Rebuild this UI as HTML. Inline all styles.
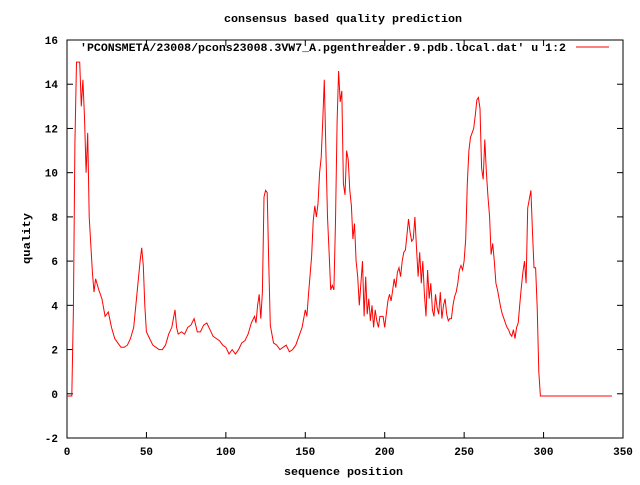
<!DOCTYPE html>
<html><head><meta charset="utf-8"><style>
html,body{margin:0;padding:0;background:#fff}
text{font-family:"Liberation Mono","DejaVu Sans Mono",monospace;font-size:11px;font-weight:bold;fill:#000}
</style></head><body>
<svg id="chart" width="640" height="480" xmlns="http://www.w3.org/2000/svg">
<rect width="640" height="480" fill="#fff"/>
<text x="224" y="22" textLength="238" lengthAdjust="spacingAndGlyphs">consensus based quality prediction</text>
<text x="284" y="475" textLength="119" lengthAdjust="spacingAndGlyphs">sequence position</text>
<text transform="translate(30,264) rotate(-90)" textLength="51" lengthAdjust="spacingAndGlyphs">quality</text>
<rect x="67" y="40" width="556" height="398" fill="none" stroke="#000" stroke-width="1"/>
<g id="ticks"></g>
<path id="series" fill="none" stroke="#f00" stroke-width="1"/>
<text x="80" y="51" textLength="486" lengthAdjust="spacingAndGlyphs">'PCONSMETA/23008/pcons23008.3VW7_A.pgenthreader.9.pdb.local.dat' u 1:2</text>
<line x1="576" y1="47" x2="609" y2="47" stroke="#f00" stroke-width="1"/>
</svg>
<script>
const xTicks=[0,50,100,150,200,250,300,350];
const yTicks=[-2,0,2,4,6,8,10,12,14,16];
const xs=[0,3,4,5,6,8,9,10,11,12,13,14,16,17,18,20,22,24,26,28,30,32,34,36,38,40,42,44,46,47,48,49,50,52,54,56,58,60,62,64,66,68,69,70,72,74,76,78,80,82,84,86,88,90,92,94,96,98,100,102,104,106,108,110,112,114,116,118,119,120,121,122,123,124,125,126,127,128,130,132,134,136,138,140,142,144,146,148,150,151,152,154,155,156,157,158,159,160,161,162,163,164,165,166,167,168,169,170,171,172,173,174,175,176,177,178,179,180,181,182,183,184,185,186,187,188,189,190,191,192,193,194,195,196,197,198,199,200,202,203,204,205,206,207,208,209,210,211,212,213,214,215,216,217,218,219,220,221,222,223,224,225,226,227,228,229,230,231,232,233,234,235,236,237,238,239,240,241,242,243,244,245,246,247,248,249,250,251,252,253,254,255,256,257,258,259,260,261,262,263,264,265,266,267,268,269,270,271,272,273,274,275,276,277,278,279,280,281,282,283,284,285,286,287,288,289,290,291,292,293,294,295,296,297,298,343];
const ys=[-0.1,-0.1,3.8,11.3,15,15,13,14.2,12.5,10,11.8,8,5.5,4.6,5.2,4.7,4.3,3.5,3.7,3,2.5,2.3,2.1,2.1,2.2,2.5,3,4.5,6,6.6,5.8,4,2.8,2.5,2.2,2.1,2.0,2.0,2.2,2.7,3.0,3.8,3.0,2.7,2.8,2.7,3.0,3.1,3.4,2.8,2.8,3.1,3.2,2.9,2.6,2.5,2.4,2.2,2.1,1.8,2.0,1.8,2.0,2.3,2.4,2.7,3.2,3.5,3.2,4.0,4.5,3.4,4.6,8.9,9.2,9.1,6,3.1,2.3,2.2,2.0,2.1,2.2,1.9,2.0,2.2,2.6,3.0,3.8,3.5,4.5,6.2,7.8,8.5,8.0,8.6,10,10.7,12.4,14.2,11.0,8.0,6.4,4.7,4.9,4.7,7.8,12.3,14.6,13.2,13.7,9.5,9.0,11.0,10.6,9.2,8.5,7.0,7.7,6.0,5.3,4.0,5.0,6.0,3.5,5.3,3.6,4.3,3.3,4.0,3.0,3.8,3.3,3.0,3.5,3.5,3.5,3.0,4.2,4.5,4.2,4.7,5.2,4.8,5.5,5.7,5.3,6.0,6.4,6.5,7.2,7.9,7.3,6.9,7.0,8.0,6.6,5.3,6.4,5.0,6.0,4.5,3.5,5.6,4.3,5.0,3.8,3.5,4.5,3.9,3.6,4.6,3.4,4.0,4.3,3.6,3.3,3.4,3.4,4.0,4.4,4.6,5.0,5.6,5.8,5.6,6.0,7.0,9.5,11.0,11.6,11.8,12.0,12.6,13.3,13.4,12.9,10.2,9.7,11.5,10.0,8.9,8.0,6.3,6.8,6.0,5.0,4.7,4.3,3.9,3.6,3.4,3.2,3.0,2.9,2.7,2.6,2.9,2.5,3.0,3.2,4.0,4.8,5.5,6.0,5.0,8.4,8.8,9.2,7.3,5.7,5.7,3.9,1.0,-0.1,-0.1];
const X0=67,X1=623,Y0=438,Y1=40;
function sx(v){return X0+(v-0)/(350-0)*(X1-X0);}
function sy(v){return Y0-(v+2)/(16+2)*(Y0-Y1);}
const NS="http://www.w3.org/2000/svg";
const g=document.getElementById('ticks');
function mk(tag,attrs){const e=document.createElementNS(NS,tag);for(const k in attrs)e.setAttribute(k,attrs[k]);g.appendChild(e);return e;}
xTicks.forEach(t=>{const x=sx(t);
 const a=mk('line',{x1:x,y1:Y0,x2:x,y2:Y0-6,stroke:'#000'});
 
 
 const b=mk('line',{x1:x,y1:Y1,x2:x,y2:Y1+6,stroke:'#000'});
 
 
 const l=mk('text',{x:x,y:Y0+17,'text-anchor':'middle'});l.textContent=t;
 
 
});
yTicks.forEach(t=>{const y=sy(t);
 const a=mk('line',{x1:X0,y1:y,x2:X0+6,y2:y,stroke:'#000'});
 
 
 const b=mk('line',{x1:X1,y1:y,x2:X1-6,y2:y,stroke:'#000'});
 
 
 const l=mk('text',{x:X0-9,y:y+4,'text-anchor':'end'});l.textContent=t;
 
 
});
let d='';
xs.forEach((x,i)=>{d+=(i?'L':'M')+sx(x).toFixed(1)+','+sy(ys[i]).toFixed(1);});
document.getElementById('series').setAttribute('d',d);
</script>
</body></html>
